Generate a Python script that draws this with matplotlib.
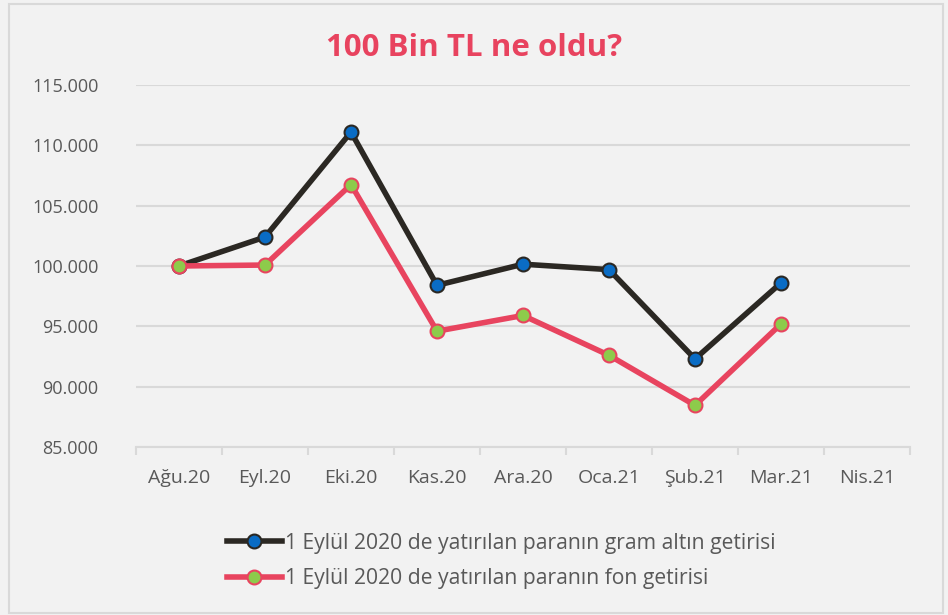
import matplotlib
matplotlib.use('Agg')
import matplotlib.pyplot as plt
from matplotlib.ticker import FuncFormatter, MultipleLocator

plt.rcParams['font.family'] = ['Open Sans', 'DejaVu Sans']

months = ['Ağu.20', 'Eyl.20', 'Eki.20', 'Kas.20', 'Ara.20', 'Oca.21', 'Şub.21', 'Mar.21', 'Nis.21']
gold = [100000, 102400, 111100, 98400, 100150, 99700, 92300, 98600]
fund = [100000, 100080, 106750, 94600, 95900, 92600, 88450, 95200]
gold_label = '1 Eylül 2020 de yatırılan paranın gram altın getirisi'
fund_label = '1 Eylül 2020 de yatırılan paranın fon getirisi'

fig = plt.figure(figsize=(9.48, 6.15), dpi=100, facecolor='#F2F2F2')
ax = fig.add_axes([136/948, 1 - 447/615, (910 - 136)/948, (447 - 85)/615])
ax.set_facecolor('#F2F2F2')

x = range(len(gold))
ax.plot(x, gold, '-o', color='#2B2823', lw=4, ms=10, mfc='#0A6CC4', mec='#2B2823',
        mew=1.5, label=gold_label, zorder=3)
ax.plot(x, fund, '-o', color='#E8445F', lw=4, ms=10, mfc='#8DCB4B', mec='#E8445F',
        mew=1.5, label=fund_label, zorder=3)

ax.set_xlim(-0.5, len(months) - 0.5)
ax.set_ylim(85000, 115000)
ax.yaxis.set_major_locator(MultipleLocator(5000))
ax.yaxis.set_major_formatter(FuncFormatter(lambda v, p: f'{v:,.0f}'.replace(',', '.')))
ax.grid(axis='y', color='#D9D9D9', lw=1.5, zorder=0)
ax.set_xticks(range(len(months)))
ax.set_xticklabels(months)
ax.set_xticks([i - 0.5 for i in range(len(months) + 1)], minor=True)
ax.tick_params(axis='x', which='major', length=0, pad=16, labelsize=14, colors='#595959')
ax.tick_params(axis='x', which='minor', length=6, width=1.5, color='#D9D9D9')
ax.tick_params(axis='y', length=0, pad=27, labelsize=13, colors='#595959')
for s in ['top', 'right', 'left']:
    ax.spines[s].set_visible(False)
ax.spines['bottom'].set_color('#D9D9D9')
ax.spines['bottom'].set_linewidth(1.5)

fig.text(0.5, 1 - 48/615, '100 Bin TL ne oldu?', ha='center', va='center',
         fontsize=22.5, fontweight='bold', color='#E8435F')

fig.legend(loc='center', bbox_to_anchor=(501/948, 1 - 561/615), frameon=False,
           fontsize=15.2, labelcolor='#595959', handlelength=2.6, handletextpad=0.15,
           labelspacing=0.7)

border = plt.Rectangle((0.01, 0.003), 0.985, 0.99, transform=fig.transFigure,
                       fill=False, edgecolor='#D9D9D9', lw=1.5)
fig.patches.append(border)

fig.savefig('out.png', dpi=100, facecolor='#F2F2F2')
